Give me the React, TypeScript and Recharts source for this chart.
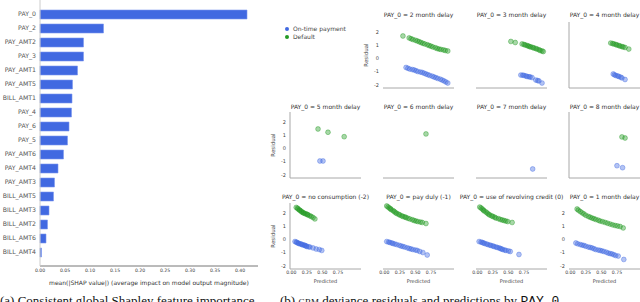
import React from "react"
import { Bar, BarChart, Scatter, ScatterChart, XAxis, YAxis } from "recharts"

type Pt = [number, number]

// ---- panel (a): mean |SHAP| per feature ----
const features = [
  "PAY_0", "PAY_2", "PAY_AMT2", "PAY_3", "PAY_AMT1", "PAY_AMT5", "BILL_AMT1", "PAY_4", "PAY_6",
  "PAY_5", "PAY_AMT6", "PAY_AMT4", "PAY_AMT3", "BILL_AMT5", "BILL_AMT3", "BILL_AMT2", "BILL_AMT6", "BILL_AMT4",
]
const meanAbsShap = [
  0.414, 0.127, 0.087, 0.087, 0.075, 0.065, 0.064, 0.063, 0.058,
  0.055, 0.047, 0.036, 0.029, 0.027, 0.018, 0.015, 0.012, 0.003,
]
const shapTicks = [0, 0.05, 0.1, 0.15, 0.2, 0.25, 0.3, 0.35, 0.4]

// ---- panel (b): residual vs predicted, one pair of series per PAY_0 level ----
const predTicks = [0, 0.25, 0.5, 0.75]
const residTicks = [-2, -1, 0, 1, 2]

const twoMonthDefault: Pt[] = [
  [0.30, 1.73], [0.40, 1.58], [0.43, 1.52], [0.46, 1.46], [0.5, 1.4], [0.53, 1.35], [0.56, 1.29],
  [0.59, 1.23], [0.62, 1.17], [0.65, 1.12], [0.69, 1.06], [0.72, 1.0], [0.75, 0.95], [0.78, 0.89],
  [0.82, 0.83], [0.85, 0.77], [0.88, 0.73], [0.91, 0.7], [0.95, 0.66], [0.98, 0.62], [1.02, 0.58],
]
const twoMonthOnTime: Pt[] = [
  [0.35, -0.68], [0.38, -0.74], [0.41, -0.8], [0.45, -0.84], [0.48, -0.87], [0.51, -0.93],
  [0.54, -0.99], [0.58, -1.03], [0.61, -1.06], [0.64, -1.12], [0.67, -1.18], [0.7, -1.23],
  [0.73, -1.29], [0.77, -1.35], [0.8, -1.41], [0.83, -1.46], [0.86, -1.52], [0.9, -1.58],
  [0.93, -1.64], [0.96, -1.71], [0.99, -1.79], [1.02, -1.87],
]
const threeMonthDefault: Pt[] = [
  [0.54, 1.31], [0.61, 1.23], [0.72, 1.12], [0.75, 1.08], [0.77, 1.04], [0.8, 1.0], [0.82, 0.96],
  [0.84, 0.92], [0.86, 0.89], [0.89, 0.85], [0.91, 0.81], [0.94, 0.77], [0.96, 0.73], [0.99, 0.68],
  [1.01, 0.62], [1.04, 0.58], [1.06, 0.54],
]
const threeMonthOnTime: Pt[] = [
  [0.7, -1.26], [0.73, -1.27], [0.75, -1.29], [0.78, -1.33], [0.8, -1.37], [0.83, -1.39],
  [0.85, -1.41], [0.88, -1.45], [0.94, -1.64], [0.97, -1.68], [0.99, -1.71], [1.04, -1.87],
]
const fourMonthDefault: Pt[] = [
  [0.65, 1.19], [0.68, 1.15], [0.7, 1.12], [0.73, 1.08], [0.75, 1.04], [0.78, 1.0], [0.8, 0.96],
  [0.83, 0.92], [0.85, 0.89], [0.88, 0.85], [0.94, 0.73],
]
const fourMonthOnTime: Pt[] = [
  [0.69, -1.18], [0.71, -1.24], [0.73, -1.29], [0.76, -1.33], [0.78, -1.37], [0.81, -1.42],
  [0.83, -1.48], [0.88, -1.6],
]
const fiveMonthDefault: Pt[] = [[0.43, 1.5], [0.59, 1.25], [0.85, 0.91]]
const fiveMonthOnTime: Pt[] = [[0.46, -0.95], [0.51, -0.95]]
const sixMonthDefault: Pt[] = [[0.67, 1.12]]
const sixMonthOnTime: Pt[] = []
const sevenMonthDefault: Pt[] = []
const sevenMonthOnTime: Pt[] = [[0.89, -1.56]]
const eightMonthDefault: Pt[] = [[0.83, 0.89], [0.88, 0.81]]
const eightMonthOnTime: Pt[] = [[0.75, -1.31], [0.84, -1.46]]
const noConsumptionDefault: Pt[] = [
  [0.08, 2.46], [0.1, 2.4], [0.11, 2.34], [0.13, 2.28], [0.14, 2.23], [0.16, 2.17], [0.17, 2.11],
  [0.19, 2.07], [0.2, 2.03], [0.22, 1.99], [0.24, 1.96], [0.26, 1.92], [0.27, 1.88], [0.3, 1.82],
  [0.32, 1.77], [0.35, 1.69], [0.38, 1.58],
]
const noConsumptionOnTime: Pt[] = [
  [0.06, -0.15], [0.08, -0.19], [0.09, -0.22], [0.11, -0.26], [0.12, -0.3], [0.14, -0.32],
  [0.16, -0.34], [0.17, -0.38], [0.19, -0.41], [0.21, -0.43], [0.22, -0.45], [0.24, -0.49],
  [0.25, -0.53], [0.28, -0.55], [0.3, -0.57], [0.35, -0.64], [0.4, -0.72], [0.45, -0.76], [0.49, -0.83],
]
const payDulyDefault: Pt[] = [
  [0.04, 2.57], [0.06, 2.5], [0.08, 2.42], [0.1, 2.36], [0.11, 2.3], [0.14, 2.22], [0.16, 2.15],
  [0.18, 2.07], [0.2, 2.0], [0.23, 1.94], [0.25, 1.88], [0.28, 1.82], [0.3, 1.77], [0.33, 1.73],
  [0.35, 1.69], [0.38, 1.63], [0.41, 1.58], [0.45, 1.52], [0.48, 1.46], [0.51, 1.42], [0.54, 1.38],
  [0.58, 1.34], [0.61, 1.31], [0.67, 1.23],
]
const payDulyOnTime: Pt[] = [
  [0.04, -0.15], [0.07, -0.19], [0.09, -0.22], [0.12, -0.26], [0.14, -0.3], [0.17, -0.34],
  [0.2, -0.38], [0.24, -0.44], [0.27, -0.49], [0.3, -0.53], [0.33, -0.57], [0.37, -0.63],
  [0.4, -0.68], [0.43, -0.72], [0.46, -0.76], [0.5, -0.8], [0.53, -0.83], [0.57, -0.91],
  [0.62, -0.99], [0.69, -1.18],
]
const revolvingDefault: Pt[] = [
  [0.04, 2.49], [0.06, 2.42], [0.08, 2.34], [0.1, 2.26], [0.11, 2.19], [0.14, 2.11], [0.16, 2.03],
  [0.18, 1.95], [0.2, 1.88], [0.23, 1.82], [0.25, 1.77], [0.28, 1.71], [0.3, 1.65], [0.34, 1.6],
  [0.37, 1.54], [0.4, 1.5], [0.43, 1.46], [0.46, 1.42], [0.49, 1.38], [0.56, 1.31],
]
const revolvingOnTime: Pt[] = [
  [0.03, -0.15], [0.06, -0.19], [0.08, -0.22], [0.1, -0.26], [0.12, -0.3], [0.15, -0.34],
  [0.17, -0.38], [0.2, -0.42], [0.22, -0.45], [0.25, -0.49], [0.27, -0.53], [0.3, -0.57],
  [0.32, -0.6], [0.35, -0.64], [0.37, -0.68], [0.39, -0.72], [0.41, -0.76], [0.44, -0.8],
  [0.46, -0.83], [0.5, -0.87], [0.53, -0.91], [0.67, -1.14],
]
const oneMonthDefault: Pt[] = [
  [0.11, 2.34], [0.13, 2.25], [0.16, 2.15], [0.19, 2.05], [0.22, 1.96], [0.25, 1.86], [0.29, 1.77],
  [0.32, 1.71], [0.35, 1.65], [0.38, 1.6], [0.41, 1.54], [0.45, 1.48], [0.48, 1.42], [0.52, 1.37],
  [0.56, 1.31], [0.6, 1.25], [0.64, 1.19], [0.68, 1.13], [0.72, 1.08], [0.76, 1.04], [0.8, 1.0], [0.85, 0.89],
]
const oneMonthOnTime: Pt[] = [
  [0.09, -0.26], [0.12, -0.32], [0.16, -0.38], [0.19, -0.42], [0.22, -0.45], [0.25, -0.51],
  [0.29, -0.57], [0.32, -0.6], [0.35, -0.64], [0.38, -0.7], [0.41, -0.76], [0.45, -0.8],
  [0.48, -0.83], [0.51, -0.87], [0.54, -0.91], [0.58, -0.97], [0.61, -1.03], [0.64, -1.07],
  [0.67, -1.1], [0.7, -1.16], [0.73, -1.22], [0.77, -1.26], [0.86, -1.52],
]

type Facet = {
  title: string
  row: number
  col: number
  onTime: Pt[]
  defaulted: Pt[]
  yTicks?: boolean
  yLine?: boolean
  yLabel?: boolean
}

const facets: Facet[] = [
  { title: "PAY_0 = 2 month delay", row: 0, col: 1, onTime: twoMonthOnTime, defaulted: twoMonthDefault, yTicks: true, yLabel: true },
  { title: "PAY_0 = 3 month delay", row: 0, col: 2, onTime: threeMonthOnTime, defaulted: threeMonthDefault },
  { title: "PAY_0 = 4 month delay", row: 0, col: 3, onTime: fourMonthOnTime, defaulted: fourMonthDefault, yLine: true },
  { title: "PAY_0 = 5 month delay", row: 1, col: 0, onTime: fiveMonthOnTime, defaulted: fiveMonthDefault, yTicks: true, yLine: true, yLabel: true },
  { title: "PAY_0 = 6 month delay", row: 1, col: 1, onTime: sixMonthOnTime, defaulted: sixMonthDefault },
  { title: "PAY_0 = 7 month delay", row: 1, col: 2, onTime: sevenMonthOnTime, defaulted: sevenMonthDefault },
  { title: "PAY_0 = 8 month delay", row: 1, col: 3, onTime: eightMonthOnTime, defaulted: eightMonthDefault, yLine: true },
  { title: "PAY_0 = no consumption (-2)", row: 2, col: 0, onTime: noConsumptionOnTime, defaulted: noConsumptionDefault, yTicks: true, yLine: true, yLabel: true },
  { title: "PAY_0 = pay duly (-1)", row: 2, col: 1, onTime: payDulyOnTime, defaulted: payDulyDefault },
  { title: "PAY_0 = use of revolving credit (0)", row: 2, col: 2, onTime: revolvingOnTime, defaulted: revolvingDefault },
  { title: "PAY_0 = 1 month delay", row: 2, col: 3, onTime: oneMonthOnTime, defaulted: oneMonthDefault, yTicks: true },
]

const blue = "#4169e1"
const green = "#249a24"
const axisGrey = "#a8a8a8"
const textGrey = "#444"

const colLeft = [290, 383, 476, 569]
const rowBottom = [88, 178, 269]
const titleMid = [15, 107, 197]
const plotW = 71
const plotH = 66
const yAxisW = 20
const xAxisH = 24

const shapRows = features.map((feature, i) => ({ feature, value: meanAbsShap[i] }))
const toPoints = (pts: Pt[]) => pts.map(([x, y]) => ({ x, y }))

const dot = (color: string) => (props: any) => (
  <circle
    cx={props.cx}
    cy={props.cy}
    r={2.4}
    fill={color}
    fillOpacity={0.4}
    stroke={color}
    strokeOpacity={0.7}
    strokeWidth={0.6}
  />
)

function FacetPlot({ f }: { f: Facet }) {
  const left = colLeft[f.col]
  const bottom = rowBottom[f.row]
  const top = bottom - plotH
  const lastRow = f.row === 2

  return (
    <>
      <div
        style={{
          position: "absolute",
          left: left + plotW / 2 - 70,
          width: 140,
          top: titleMid[f.row] - 4,
          lineHeight: "8px",
          fontSize: 6,
          color: "#333",
          textAlign: "center",
          whiteSpace: "nowrap",
        }}
      >
        {f.title}
      </div>

      {f.yLabel && (
        <div
          style={{
            position: "absolute",
            left: left - 17 - 20,
            width: 40,
            top: top + plotH / 2 - 4,
            lineHeight: "8px",
            fontSize: 5.5,
            color: textGrey,
            textAlign: "center",
            transform: "rotate(-90deg)",
          }}
        >
          Residual
        </div>
      )}

      {lastRow && (
        <div
          style={{
            position: "absolute",
            left: left + plotW / 2 - 30,
            width: 60,
            top: bottom + 8,
            lineHeight: "8px",
            fontSize: 5,
            color: textGrey,
            textAlign: "center",
          }}
        >
          Predicted
        </div>
      )}

      <div style={{ position: "absolute", left: left - yAxisW, top }}>
        <ScatterChart
          width={yAxisW + plotW + 2}
          height={plotH + xAxisH}
          margin={{ top: 0, right: 2, bottom: 0, left: 0 }}
        >
          <XAxis
            type="number"
            dataKey="x"
            domain={[-0.02, 1.12]}
            ticks={predTicks}
            tickFormatter={(v: number) => v.toFixed(2)}
            tick={lastRow ? { fontSize: 4.6, fill: textGrey } : false}
            tickLine={false}
            tickSize={2}
            tickMargin={0}
            axisLine={{ stroke: axisGrey }}
            height={xAxisH}
            allowDataOverflow
          />
          <YAxis
            type="number"
            dataKey="y"
            domain={[-2.25, 2.8]}
            ticks={residTicks}
            tick={f.yTicks ? { fontSize: 5, fill: textGrey } : false}
            tickLine={false}
            tickSize={2}
            tickMargin={2}
            axisLine={f.yLine ? { stroke: axisGrey } : false}
            width={yAxisW}
            allowDataOverflow
          />
          <Scatter data={toPoints(f.onTime)} shape={dot(blue)} isAnimationActive={false} />
          <Scatter data={toPoints(f.defaulted)} shape={dot(green)} isAnimationActive={false} />
        </ScatterChart>
      </div>
    </>
  )
}

function LegendItem({ color, label, y }: { color: string; label: string; y: number }) {
  return (
    <div style={{ position: "absolute", left: 285, top: y - 4, height: 8, display: "flex", alignItems: "center" }}>
      <span
        style={{
          width: 4,
          height: 4,
          borderRadius: "50%",
          background: color,
          display: "inline-block",
          marginRight: 4,
        }}
      />
      <span style={{ fontSize: 6, color: textGrey, lineHeight: "8px" }}>{label}</span>
    </div>
  )
}

export default function App() {
  return (
    <div
      style={{
        position: "relative",
        width: 640,
        height: 302,
        overflow: "hidden",
        background: "#fff",
        fontFamily: "'DejaVu Sans', sans-serif",
      }}
    >
      <style>{"body{margin:0}"}</style>

      <div style={{ position: "absolute", left: 0, top: 0 }}>
        <BarChart
          width={262}
          height={290}
          layout="vertical"
          data={shapRows}
          margin={{ top: 0, right: 4, bottom: 0, left: 0 }}
        >
          <XAxis
            type="number"
            domain={[0, 0.436]}
            ticks={shapTicks}
            tickFormatter={(v: number) => v.toFixed(2)}
            tick={{ fontSize: 4.6, fill: textGrey }}
            tickLine={false}
            tickSize={3}
            tickMargin={0}
            axisLine={{ stroke: "#777" }}
            height={24}
            label={{
              value: "mean(|SHAP value|) (average impact on model output magnitude)",
              position: "insideBottom",
              offset: 5,
              style: { fontSize: 6, fill: "#333" },
            }}
          />
          <YAxis
            type="category"
            dataKey="feature"
            width={40}
            interval={0}
            tick={{ fontSize: 6.2, fill: "#555" }}
            tickLine={false}
            tickSize={0}
            tickMargin={4}
            axisLine={{ stroke: "#ccc" }}
            padding={{ top: 7, bottom: 7 }}
          />
          <Bar
            dataKey="value"
            fill={blue}
            stroke="#7d98ee"
            strokeWidth={0.6}
            barSize={9}
            isAnimationActive={false}
          />
        </BarChart>
      </div>

      <LegendItem color={blue} label="On-time payment" y={29} />
      <LegendItem color={green} label="Default" y={37} />

      {facets.map((f) => (
        <FacetPlot key={f.title} f={f} />
      ))}

      <div
        style={{
          position: "absolute",
          left: 0,
          top: 293,
          fontFamily: "'Liberation Serif', serif",
          fontSize: 13,
          whiteSpace: "nowrap",
          color: "#111",
        }}
      >
        (a) Consistent global Shapley feature importance
      </div>
      <div
        style={{
          position: "absolute",
          left: 280,
          top: 293,
          fontFamily: "'Liberation Serif', serif",
          fontSize: 13,
          whiteSpace: "nowrap",
          color: "#111",
        }}
      >
        (b) <span style={{ fontVariant: "small-caps" }}>gbm</span> deviance residuals and predictions by{" "}
        <span style={{ fontFamily: "'Liberation Mono', monospace" }}>PAY_0</span>
      </div>
    </div>
  )
}
